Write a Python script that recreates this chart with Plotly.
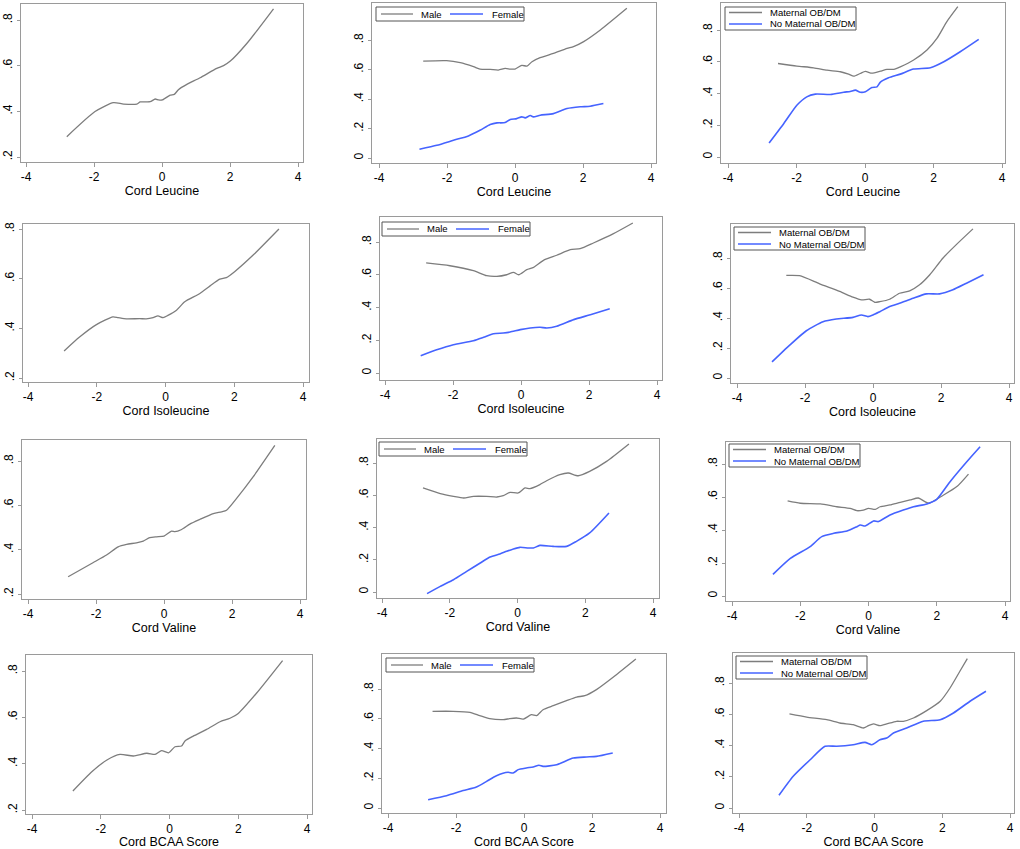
import plotly.graph_objects as go

W, H = 1020, 849
GRAY = "#7d7d7d"
BLUE = "#4563ff"
FRAME = "#9a9a9a"
FONT = "Liberation Sans, Arial, sans-serif"

# ---------------- data ----------------
# Row 1: Cord Leucine
leu_all_x = [-2.80, -1.97, -1.43, -1.13, -0.74, -0.64, -0.35, -0.20, -0.10, 0.01, 0.24, 0.36, 0.49, 0.73, 1.12, 1.61, 1.81, 2.01, 2.50, 3.28]
leu_all_y = [0.289, 0.399, 0.438, 0.432, 0.432, 0.441, 0.442, 0.454, 0.450, 0.450, 0.471, 0.474, 0.496, 0.518, 0.547, 0.588, 0.600, 0.620, 0.698, 0.849]
leu_male_x = [-2.70, -2.01, -1.61, -1.22, -1.03, -0.73, -0.49, -0.29, -0.14, 0.00, 0.20, 0.35, 0.50, 0.74, 1.13, 1.53, 1.72, 2.02, 2.51, 3.29]
leu_male_y = [0.657, 0.660, 0.646, 0.619, 0.603, 0.601, 0.596, 0.607, 0.603, 0.603, 0.628, 0.623, 0.653, 0.680, 0.709, 0.743, 0.755, 0.789, 0.868, 1.015]
leu_female_x = [-2.81, -2.30, -1.81, -1.37, -1.03, -0.73, -0.53, -0.29, -0.14, 0.05, 0.20, 0.30, 0.45, 0.54, 0.74, 1.13, 1.53, 1.92, 2.21, 2.60]
leu_female_y = [0.059, 0.086, 0.120, 0.150, 0.188, 0.227, 0.238, 0.240, 0.261, 0.267, 0.279, 0.272, 0.288, 0.279, 0.290, 0.301, 0.335, 0.347, 0.351, 0.369]
leu_ob_x = [-2.54, -1.99, -1.50, -1.11, -0.72, -0.48, -0.33, -0.14, 0.01, 0.20, 0.45, 0.64, 0.84, 1.03, 1.42, 1.81, 2.10, 2.39, 2.71]
leu_ob_y = [0.589, 0.573, 0.562, 0.547, 0.537, 0.522, 0.509, 0.526, 0.539, 0.528, 0.541, 0.552, 0.552, 0.568, 0.611, 0.674, 0.747, 0.853, 0.947]
leu_noob_x = [-2.80, -2.37, -1.99, -1.70, -1.45, -1.01, -0.62, -0.43, -0.28, -0.14, 0.01, 0.20, 0.35, 0.45, 0.69, 1.03, 1.42, 1.91, 2.30, 2.78, 3.32]
leu_noob_y = [0.088, 0.211, 0.326, 0.379, 0.396, 0.394, 0.408, 0.413, 0.421, 0.408, 0.411, 0.438, 0.442, 0.472, 0.499, 0.522, 0.554, 0.562, 0.600, 0.663, 0.741]

# Row 2: Cord Isoleucine
ile_all_x = [-2.95, -2.50, -2.01, -1.53, -1.38, -1.14, -0.75, -0.56, -0.36, -0.22, -0.07, 0.07, 0.32, 0.56, 1.00, 1.29, 1.58, 1.77, 2.01, 2.55, 3.30]
ile_all_y = [0.309, 0.365, 0.415, 0.446, 0.443, 0.438, 0.439, 0.438, 0.443, 0.450, 0.443, 0.452, 0.473, 0.507, 0.540, 0.570, 0.598, 0.604, 0.628, 0.695, 0.800]
ile_male_x = [-2.79, -2.09, -1.40, -1.01, -0.71, -0.42, -0.22, -0.07, 0.17, 0.37, 0.66, 1.05, 1.45, 1.74, 2.13, 2.72, 3.29]
ile_male_y = [0.672, 0.655, 0.625, 0.594, 0.590, 0.600, 0.615, 0.600, 0.631, 0.645, 0.688, 0.719, 0.753, 0.759, 0.794, 0.851, 0.916]
ile_female_x = [-2.95, -2.48, -1.99, -1.40, -1.10, -0.81, -0.52, -0.32, -0.02, 0.27, 0.56, 0.76, 1.05, 1.55, 2.04, 2.61]
ile_female_y = [0.106, 0.142, 0.173, 0.197, 0.218, 0.240, 0.244, 0.250, 0.265, 0.275, 0.279, 0.275, 0.285, 0.326, 0.356, 0.393]
ile_ob_x = [-2.55, -2.16, -1.57, -0.98, -0.59, -0.34, -0.10, 0.05, 0.20, 0.49, 0.78, 1.08, 1.37, 1.67, 2.06, 2.45, 2.94]
ile_ob_y = [0.684, 0.682, 0.628, 0.577, 0.539, 0.521, 0.525, 0.505, 0.509, 0.525, 0.565, 0.581, 0.621, 0.688, 0.800, 0.889, 0.994]
ile_noob_x = [-2.97, -2.45, -1.96, -1.47, -1.08, -0.59, -0.34, -0.15, 0.00, 0.20, 0.49, 0.78, 1.18, 1.57, 1.96, 2.35, 2.75, 3.25]
ile_noob_y = [0.107, 0.219, 0.315, 0.375, 0.393, 0.404, 0.420, 0.409, 0.420, 0.442, 0.476, 0.498, 0.532, 0.561, 0.561, 0.588, 0.632, 0.688]

# Row 3: Cord Valine
val_all_x = [-2.82, -2.09, -1.69, -1.35, -1.10, -0.81, -0.61, -0.42, -0.22, 0.00, 0.22, 0.32, 0.52, 0.76, 1.05, 1.45, 1.69, 1.84, 2.13, 2.62, 3.26]
val_all_y = [0.278, 0.341, 0.376, 0.413, 0.424, 0.431, 0.439, 0.454, 0.458, 0.461, 0.484, 0.481, 0.491, 0.515, 0.536, 0.563, 0.571, 0.578, 0.630, 0.728, 0.870]
val_male_x = [-2.79, -2.28, -1.89, -1.59, -1.30, -0.91, -0.61, -0.42, -0.22, 0.02, 0.22, 0.37, 0.66, 0.86, 1.25, 1.50, 1.79, 2.13, 2.63, 3.29]
val_male_y = [0.645, 0.610, 0.593, 0.583, 0.593, 0.593, 0.589, 0.597, 0.618, 0.614, 0.645, 0.641, 0.666, 0.690, 0.728, 0.738, 0.721, 0.748, 0.810, 0.918]
val_female_x = [-2.67, -2.28, -1.89, -1.50, -1.10, -0.81, -0.52, -0.32, -0.12, 0.07, 0.32, 0.47, 0.66, 1.05, 1.45, 1.74, 2.13, 2.70]
val_female_y = [-0.010, 0.035, 0.076, 0.128, 0.180, 0.217, 0.236, 0.252, 0.267, 0.277, 0.273, 0.273, 0.289, 0.283, 0.283, 0.314, 0.366, 0.490]
val_ob_x = [-2.37, -2.00, -1.41, -0.93, -0.54, -0.34, -0.15, 0.00, 0.20, 0.34, 0.63, 0.93, 1.22, 1.46, 1.76, 2.20, 2.59, 2.93]
val_ob_y = [0.576, 0.562, 0.558, 0.541, 0.531, 0.517, 0.521, 0.531, 0.525, 0.541, 0.552, 0.568, 0.582, 0.594, 0.562, 0.612, 0.663, 0.739]
val_noob_x = [-2.80, -2.29, -1.71, -1.37, -1.02, -0.63, -0.34, -0.24, -0.10, 0.15, 0.29, 0.63, 1.02, 1.32, 1.71, 2.00, 2.39, 2.88, 3.27]
val_noob_y = [0.131, 0.228, 0.299, 0.360, 0.380, 0.394, 0.420, 0.430, 0.424, 0.455, 0.451, 0.491, 0.521, 0.541, 0.558, 0.586, 0.693, 0.814, 0.905]

# Row 4: Cord BCAA Score
bcaa_all_x = [-2.81, -2.26, -1.82, -1.44, -1.05, -0.66, -0.42, -0.23, -0.03, 0.16, 0.35, 0.45, 0.69, 1.08, 1.47, 1.76, 2.00, 2.53, 3.29]
bcaa_all_y = [0.282, 0.365, 0.416, 0.440, 0.433, 0.445, 0.440, 0.456, 0.447, 0.473, 0.476, 0.498, 0.519, 0.548, 0.581, 0.596, 0.617, 0.704, 0.845]
bcaa_male_x = [-2.69, -2.09, -1.59, -1.30, -1.01, -0.61, -0.42, -0.22, -0.02, 0.22, 0.37, 0.56, 0.86, 1.25, 1.55, 1.79, 2.13, 2.63, 3.29]
bcaa_male_y = [0.650, 0.650, 0.643, 0.621, 0.601, 0.594, 0.601, 0.605, 0.598, 0.627, 0.621, 0.661, 0.688, 0.722, 0.746, 0.755, 0.796, 0.881, 1.002]
bcaa_female_x = [-2.82, -2.28, -1.79, -1.40, -1.10, -0.81, -0.47, -0.32, -0.17, 0.07, 0.27, 0.44, 0.56, 0.96, 1.45, 1.84, 2.13, 2.61]
bcaa_female_y = [0.056, 0.083, 0.117, 0.141, 0.179, 0.217, 0.240, 0.235, 0.258, 0.269, 0.276, 0.287, 0.280, 0.291, 0.336, 0.343, 0.347, 0.370]
bcaa_ob_x = [-2.51, -2.00, -1.41, -1.02, -0.63, -0.33, -0.18, -0.03, 0.16, 0.36, 0.65, 0.85, 1.15, 1.54, 1.94, 2.23, 2.52, 2.74]
bcaa_ob_y = [0.602, 0.582, 0.565, 0.544, 0.533, 0.512, 0.527, 0.538, 0.527, 0.538, 0.555, 0.555, 0.576, 0.623, 0.683, 0.768, 0.875, 0.956]
bcaa_noob_x = [-2.82, -2.40, -1.90, -1.46, -1.12, -0.63, -0.28, -0.08, 0.16, 0.36, 0.56, 0.95, 1.44, 1.94, 2.33, 2.82, 3.29]
bcaa_noob_y = [0.081, 0.203, 0.309, 0.395, 0.395, 0.405, 0.420, 0.405, 0.437, 0.448, 0.480, 0.512, 0.555, 0.565, 0.608, 0.683, 0.747]

x_ticks = [-4, -2, 0, 2, 4]
x_tick_text = ["-4", "-2", "0", "2", "4"]
y_ticks_all = [0.2, 0.4, 0.6, 0.8]
y_text_all = [".2", ".4", ".6", ".8"]
y_ticks_grp = [0, 0.2, 0.4, 0.6, 0.8]
y_text_grp = ["0", ".2", ".4", ".6", ".8"]

sex_names = ["Male", "Female"]
mat_names = ["Maternal OB/DM", "No Maternal OB/DM"]
titles = ["Cord Leucine", "Cord Isoleucine", "Cord Valine", "Cord BCAA Score"]

# ---------------- layout geometry (window pixels) ----------------
geom = [
    ((21, 303, 4, 162), (26, 298), ((20, 0.8), (157, 0.2))),
    ((372, 656, 3, 163), (379, 651), ((40, 0.8), (158, 0.0))),
    ((721, 1005, 3, 163), (728, 1002), ((30, 0.8), (157, 0.0))),
    ((23, 309, 224, 382), (28, 303), ((229, 0.8), (378, 0.2))),
    ((380, 662, 217, 380), (385, 657), ((242, 0.8), (373, 0.0))),
    ((731, 1014, 224, 383), (737, 1009), ((258, 0.8), (378, 0.0))),
    ((22, 306, 440, 599), (28, 300), ((461, 0.8), (594, 0.2))),
    ((377, 659, 439, 598), (382, 653), ((463, 0.8), (592, 0.0))),
    ((726, 1010, 442, 601), (732, 1005), ((464, 0.8), (596, 0.0))),
    ((26, 312, 655, 814), (32, 307), ((671, 0.8), (810, 0.2))),
    ((382, 666, 654, 813), (388, 660), ((689, 0.8), (808, 0.0))),
    ((733, 1014, 653, 813), (739, 1010), ((683, 0.8), (808, 0.0))),
]
# legend boxes: left, top, orientation
legend_pos = {
    1: (376, 7, "h"), 2: (725, 7, "v"),
    4: (382, 222, "h"), 5: (734, 227, "v"),
    7: (379, 442, "h"), 8: (729, 444, "v"),
    10: (386, 658, "h"), 11: (736, 656, "v"),
}

series = [
    [(leu_all_x, leu_all_y)],
    [(leu_male_x, leu_male_y), (leu_female_x, leu_female_y)],
    [(leu_ob_x, leu_ob_y), (leu_noob_x, leu_noob_y)],
    [(ile_all_x, ile_all_y)],
    [(ile_male_x, ile_male_y), (ile_female_x, ile_female_y)],
    [(ile_ob_x, ile_ob_y), (ile_noob_x, ile_noob_y)],
    [(val_all_x, val_all_y)],
    [(val_male_x, val_male_y), (val_female_x, val_female_y)],
    [(val_ob_x, val_ob_y), (val_noob_x, val_noob_y)],
    [(bcaa_all_x, bcaa_all_y)],
    [(bcaa_male_x, bcaa_male_y), (bcaa_female_x, bcaa_female_y)],
    [(bcaa_ob_x, bcaa_ob_y), (bcaa_noob_x, bcaa_noob_y)],
]


def px(x):
    return x / W


def py(y):
    return 1 - y / H


fig = go.Figure()
layout = dict(
    width=W, height=H, margin=dict(l=0, r=0, t=0, b=0, autoexpand=False),
    paper_bgcolor="white", plot_bgcolor="white",
    font=dict(family=FONT, color="black"),
    showlegend=False,
)
shapes = []
annotations = []

for i in range(12):
    (L, R, T, B), (xa, xb), ((pa, va), (pb, vb)) = geom[i]
    col = i % 3
    row = i // 3
    sx = 8.0 / (xb - xa)
    xrng = [-4 - (xa - L) * sx, 4 + (R - xb) * sx]
    sy = (va - vb) / (pb - pa)
    yrng = [vb - (B - pb) * sy, va + (pa - T) * sy]
    n = "" if i == 0 else str(i + 1)

    names = [None] if col == 0 else (sex_names if col == 1 else mat_names)
    colors = [GRAY] if col == 0 else [GRAY, BLUE]
    for (sxv, syv), nm, c in zip(series[i], names, colors):
        fig.add_trace(go.Scatter(
            x=sxv, y=syv, mode="lines", name=nm or titles[row],
            line=dict(color=c, width=1.3 if c == GRAY else 1.6, shape="spline", smoothing=0.6),
            xaxis="x" + n, yaxis="y" + n, showlegend=False,
        ))

    # legend box drawn in the panel's top-left corner
    if i in legend_pos:
        lx, ly, orient = legend_pos[i]
        if orient == "h":
            bw, bh = 148, 14
            items = [(5, 37, 43, 7), (74, 107, 114, 7)]
        else:
            bw, bh = 131, 23
            items = [(4, 37, 43, 5.5), (4, 37, 43, 17)]
        shapes.append(dict(type="rect", xref="paper", yref="paper",
                           x0=px(lx), x1=px(lx + bw), y0=py(ly + bh), y1=py(ly),
                           line=dict(color="#555555", width=1), fillcolor="white", layer="above"))
        for (s0, s1, t0, yy), nm, c in zip(items, names, colors):
            shapes.append(dict(type="line", xref="paper", yref="paper",
                               x0=px(lx + s0), x1=px(lx + s1), y0=py(ly + yy), y1=py(ly + yy),
                               line=dict(color=c, width=1.3 if c == GRAY else 1.6), layer="above"))
            annotations.append(dict(text=nm, xref="paper", yref="paper",
                                    x=px(lx + t0), y=py(ly + yy), xanchor="left", yanchor="middle",
                                    showarrow=False, font=dict(size=9.5, family=FONT, color="black")))

    layout["xaxis" + n] = dict(
        domain=[px(L), px(R)], range=xrng, anchor="y" + n,
        tickvals=x_ticks, ticktext=x_tick_text,
        showline=True, linecolor=FRAME, linewidth=1, mirror=True,
        ticks="outside", ticklen=4, tickcolor=FRAME, showgrid=False, zeroline=False,
        tickfont=dict(size=12, family=FONT),
        title=dict(text=titles[row], font=dict(size=12.5, family=FONT), standoff=2),
        automargin=False, fixedrange=True,
    )
    yt = y_ticks_all if col == 0 else y_ticks_grp
    ytt = y_text_all if col == 0 else y_text_grp
    layout["yaxis" + n] = dict(
        domain=[py(B), py(T)], range=yrng, anchor="x" + n,
        tickvals=yt, ticktext=ytt, tickangle=-90,
        showline=True, linecolor=FRAME, linewidth=1, mirror=True,
        ticks="outside", ticklen=3, tickcolor=FRAME, showgrid=False, zeroline=False,
        tickfont=dict(size=12, family=FONT),
        automargin=False, fixedrange=True,
    )

layout["shapes"] = shapes
layout["annotations"] = annotations
fig.update_layout(**layout)
# remove the page's default 8px body margin so the figure fills the window exactly
fig.write_html("out.html", config={"displayModeBar": False},
               post_script="document.body.style.margin='0';")
